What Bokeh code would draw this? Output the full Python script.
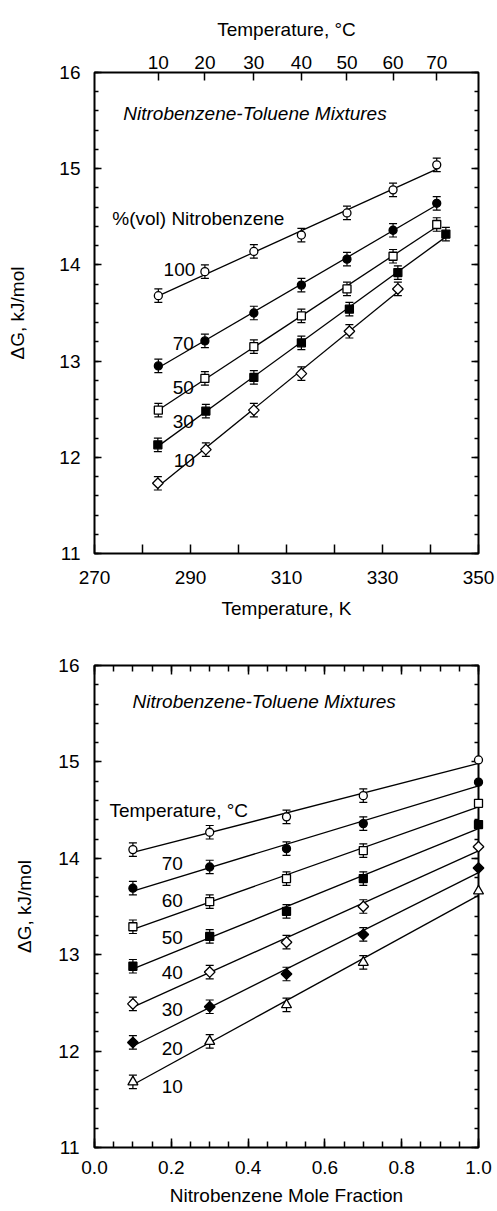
import numpy as np
from bokeh.plotting import figure
from bokeh.models import (Range1d, LinearAxis, FixedTicker, SingleIntervalTicker,
                          CustomJSTickFormatter, Label, Whisker, ColumnDataSource, TeeHead)
from bokeh.layouts import column
from bokeh.embed import file_html
from bokeh.resources import INLINE

FONT = "Liberation Sans"
FS = "19px"

# ---------------- data: top panel (dG vs temperature) ----------------
celsius_labels = ["10", "20", "30", "40", "50", "60", "70"]
T_a = [283.3, 293.0, 303.2, 313.1, 322.6, 332.2, 341.3]   # 100, 70, 50 %
T_b = [283.2, 293.2, 303.2, 313.1, 323.1, 333.2, 343.2]   # 30, 10 %
dG_100 = [13.68, 13.93, 14.14, 14.31, 14.54, 14.78, 15.04]
dG_70 = [12.95, 13.21, 13.50, 13.79, 14.06, 14.36, 14.64]
dG_50 = [12.49, 12.82, 13.15, 13.47, 13.75, 14.09, 14.42]
dG_30 = [12.13, 12.48, 12.83, 13.19, 13.54, 13.92, 14.32]
dG_10 = [11.73, 12.08, 12.49, 12.87, 13.31, 13.75]
vol_labels = ["100", "70", "50", "30", "10"]
err_top = 0.07

# ---------------- data: bottom panel (dG vs mole fraction) ----------------
x_frac = [0.1, 0.3, 0.5, 0.7, 1.0]
g70 = [14.09, 14.27, 14.43, 14.65, 15.02]
g60 = [13.69, 13.91, 14.10, 14.36, 14.79]
g50 = [13.29, 13.55, 13.79, 14.08, 14.57]
g40 = [12.88, 13.19, 13.45, 13.79, 14.35]
g30 = [12.49, 12.82, 13.13, 13.50, 14.12]
g20 = [12.09, 12.46, 12.80, 13.21, 13.90]
g10 = [11.68, 12.10, 12.48, 12.92, 13.66]
temp_labels = ["70", "60", "50", "40", "30", "20", "10"]
err_bot = 0.07


def style_axis(ax, tick_in, minor_in, std=5, astd=10):
    ax.axis_line_color = None
    ax.major_tick_in = tick_in
    ax.major_tick_out = 0
    ax.minor_tick_in = minor_in
    ax.minor_tick_out = 0
    ax.major_tick_line_width = 1.5
    ax.minor_tick_line_width = 1.5
    ax.major_tick_line_color = "black"
    ax.minor_tick_line_color = "black"
    ax.major_label_text_font = FONT
    ax.major_label_text_font_size = FS
    ax.major_label_text_color = "black"
    ax.major_label_standoff = std
    ax.axis_label_text_font = FONT
    ax.axis_label_text_font_size = FS
    ax.axis_label_text_font_style = "normal"
    ax.axis_label_text_color = "black"
    ax.axis_label_standoff = astd


def blank():
    return CustomJSTickFormatter(code="return '';")


def add_series(p, x, y, marker, filled, size, err, n_err, angle=0.0):
    x = list(x[:len(y)])
    coef = np.polyfit(x, y, 1)
    xs = [min(x), max(x)]
    p.line(xs, [coef[0] * v + coef[1] for v in xs], line_color="black", line_width=1.3)
    src = ColumnDataSource(dict(x=x[:n_err], up=[v + err for v in y[:n_err]],
                                lo=[v - err for v in y[:n_err]]))
    p.add_layout(Whisker(base="x", upper="up", lower="lo", source=src,
                         line_color="black", line_width=1.2,
                         upper_head=TeeHead(size=8, line_width=1.2, line_color="black"),
                         lower_head=TeeHead(size=8, line_width=1.2, line_color="black")))
    r = p.scatter(x, y, marker=marker, size=size, angle=angle,
                  fill_color="black" if filled else "white",
                  line_color="black", line_width=1.3)
    r.level = "overlay"


def text(p, x, y, s, italic=False):
    p.add_layout(Label(x=x, y=y, text=s, text_font=FONT, text_font_size=FS,
                       text_font_style="italic" if italic else "normal",
                       text_color="black", text_baseline="alphabetic", text_align="left"))


# ================= top figure =================
p1 = figure(width=497, height=626, x_range=Range1d(270, 350), y_range=Range1d(11, 16),
            output_backend="svg", toolbar_location=None,
            min_border_left=94, min_border_right=17, min_border_top=72, min_border_bottom=73)
p1.grid.visible = False
p1.outline_line_color = "black"
p1.outline_line_width = 2
p1.background_fill_color = "white"
p1.border_fill_color = "white"

xb = p1.xaxis[0]
xb.ticker = FixedTicker(ticks=[270, 290, 310, 330, 350], minor_ticks=[280, 300, 320, 340])
xb.axis_label = "Temperature, K"
style_axis(xb, 9, 9, std=17, astd=11)

yl = p1.yaxis[0]
yl.ticker = SingleIntervalTicker(interval=1, num_minor_ticks=5)
yl.axis_label = "ΔG, kJ/mol"
style_axis(yl, 7, 4, std=14, astd=28)

xt = LinearAxis(ticker=FixedTicker(ticks=T_a, minor_ticks=[]),
                formatter=CustomJSTickFormatter(args=dict(labels=celsius_labels),
                                                code="return labels[index];"),
                axis_label="Temperature, °C")
style_axis(xt, 8, 0, std=4, astd=13)
p1.add_layout(xt, "above")

yr = LinearAxis(ticker=SingleIntervalTicker(interval=1, num_minor_ticks=5), formatter=blank())
style_axis(yr, 7, 4, std=0, astd=0)
p1.add_layout(yr, "right")

add_series(p1, T_a, dG_100, "circle", False, 8, err_top, 7)
add_series(p1, T_a, dG_70, "circle", True, 8, err_top, 7)
add_series(p1, T_a, dG_50, "square", False, 8, err_top, 7)
add_series(p1, T_b, dG_30, "square", True, 8, err_top, 7)
add_series(p1, T_b, dG_10, "square", False, 7.5, err_top, 6, angle=np.pi / 4)

text(p1, 276.0, 15.574, "Nitrobenzene-Toluene Mixtures", italic=True)
text(p1, 273.7, 14.479, "%(vol) Nitrobenzene")
top_lab_x = [284.4, 286.3, 286.3, 286.3, 286.5]
top_lab_y = [13.949, 13.186, 12.722, 12.375, 11.967]
for s, lx, ly in zip(vol_labels, top_lab_x, top_lab_y):
    text(p1, lx, ly, s)

# ================= bottom figure =================
p2 = figure(width=497, height=585, x_range=Range1d(0, 1.0), y_range=Range1d(11, 16),
            output_backend="svg", toolbar_location=None,
            min_border_left=91, min_border_right=19, min_border_top=39, min_border_bottom=64)
p2.grid.visible = False
p2.outline_line_color = "black"
p2.outline_line_width = 2
p2.background_fill_color = "white"
p2.border_fill_color = "white"

xb2 = p2.xaxis[0]
xb2.ticker = SingleIntervalTicker(interval=0.2, num_minor_ticks=4)
xb2.formatter = CustomJSTickFormatter(code="return tick.toFixed(1);")
xb2.axis_label = "Nitrobenzene Mole Fraction"
style_axis(xb2, 9, 6, std=13, astd=8)

yl2 = p2.yaxis[0]
yl2.ticker = SingleIntervalTicker(interval=1, num_minor_ticks=5)
yl2.axis_label = "ΔG, kJ/mol"
style_axis(yl2, 7, 4, std=15, astd=20)

xt2 = LinearAxis(ticker=SingleIntervalTicker(interval=0.2, num_minor_ticks=4), formatter=blank())
style_axis(xt2, 9, 6, std=0, astd=0)
p2.add_layout(xt2, "above")

yr2 = LinearAxis(ticker=SingleIntervalTicker(interval=1, num_minor_ticks=5), formatter=blank())
style_axis(yr2, 7, 4, std=0, astd=0)
p2.add_layout(yr2, "right")

add_series(p2, x_frac, g70, "circle", False, 8, err_bot, 4)
add_series(p2, x_frac, g60, "circle", True, 8, err_bot, 4)
add_series(p2, x_frac, g50, "square", False, 8, err_bot, 4)
add_series(p2, x_frac, g40, "square", True, 8, err_bot, 4)
add_series(p2, x_frac, g30, "square", False, 7.5, err_bot, 4, angle=np.pi / 4)
add_series(p2, x_frac, g20, "square", True, 7.5, err_bot, 4, angle=np.pi / 4)
add_series(p2, x_frac, g10, "triangle", False, 10, err_bot, 4)

text(p2, 0.099, 15.63, "Nitrobenzene-Toluene Mixtures", italic=True)
text(p2, 0.039, 14.494, "Temperature, °C")
bot_lab_y = [13.947, 13.56, 13.18, 12.82, 12.428, 12.026, 11.63]
for s, ly in zip(temp_labels, bot_lab_y):
    text(p2, 0.175, ly, s)

layout = column(p1, p2, spacing=0)
open("out.html", "w").write(file_html(layout, INLINE))
